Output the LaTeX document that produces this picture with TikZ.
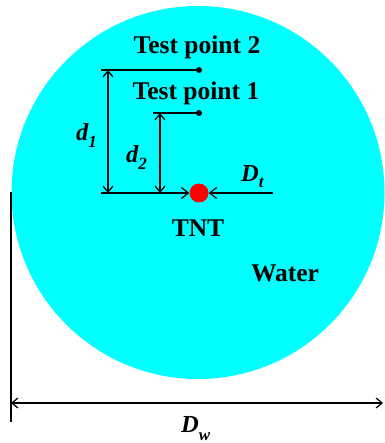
\documentclass[tikz,border=0pt]{standalone}
\usepackage{fontspec}
\setmainfont{Liberation Serif}
\usetikzlibrary{arrows.meta}
\definecolor{water}{HTML}{00FFFF}
\definecolor{tntred}{HTML}{FF0000}
\tikzset{
  lbl/.style={font=\fontsize{25.5}{28}\selectfont\bfseries, inner sep=0pt},
  mlbl/.style={font=\fontsize{24.5}{27}\selectfont\bfseries\itshape, inner sep=0pt, anchor=base west},
  thickline/.style={line width=1.8pt},
  dim/.style={line width=1.2pt, {Straight Barb[length=6pt,width=10pt]}-{Straight Barb[length=6pt,width=10pt]}},
  tip/.style={line width=1.8pt, -{Straight Barb[length=7pt,width=11pt,line width=1.2pt]}},
  tpdot/.style={circle, fill=black, inner sep=0pt, minimum size=6pt},
}
\begin{document}
\begin{tikzpicture}[x=1pt,y=-1pt]
\useasboundingbox (0,0) rectangle (384,443);
% water
\fill[water] (198,192.5) circle (186.5);
% coordinates
\coordinate (l2) at (101,70);
\coordinate (l1) at (153,113);
\coordinate (lb) at (101,193);
\coordinate (rb) at (273,193);
\coordinate (d1t) at (108,70);
\coordinate (d1b) at (108,193);
\coordinate (d2t) at (160,113);
\coordinate (d2b) at (160,193);
\coordinate (vt) at (11,192);
\coordinate (vb) at (11,422);
\coordinate (dwl) at (11,403);
\coordinate (dwr) at (383,403);
% test points
\node[tpdot] (tp2) at (199,70) {};
\node[tpdot] (tp1) at (199,113) {};
\draw[thickline] (l2) -- (tp2.center);
\draw[thickline] (l1) -- (tp1.center);
% dims
\draw[dim] (d1t) -- (d1b);
\draw[dim] (d2t) -- (d2b);
% TNT
\node[circle, fill=tntred, inner sep=0pt, minimum size=19pt] (tnt) at (199,193) {};
\draw[tip] (lb) -- (tnt.west);
\draw[tip] (rb) -- (tnt.east);
% Dw
\draw[line width=1.8pt] (vt) -- (vb);
\draw[dim] (dwl) -- (dwr);
% labels
\node[lbl] (t2) at (197,47) {Test point 2};
\node[lbl] (t1) at (196,93) {Test point 1};
\node[lbl] (tntl) at (198,228) {TNT};
\node[lbl] (wat) at (285,273) {Water};
\node[mlbl] (d1l) at (76,141) {d\raisebox{-7pt}{\fontsize{17}{17}\selectfont 1}};
\node[mlbl] (d2l) at (126,163) {d\raisebox{-7pt}{\fontsize{17}{17}\selectfont 2}};
\node[mlbl] (dtl) at (241,182) {D\raisebox{-6pt}{\fontsize{17}{17}\selectfont t}};
\node[mlbl] (dwlb) at (181,432) {D\raisebox{-8pt}{\fontsize{17}{17}\selectfont w}};
\end{tikzpicture}
\end{document}
